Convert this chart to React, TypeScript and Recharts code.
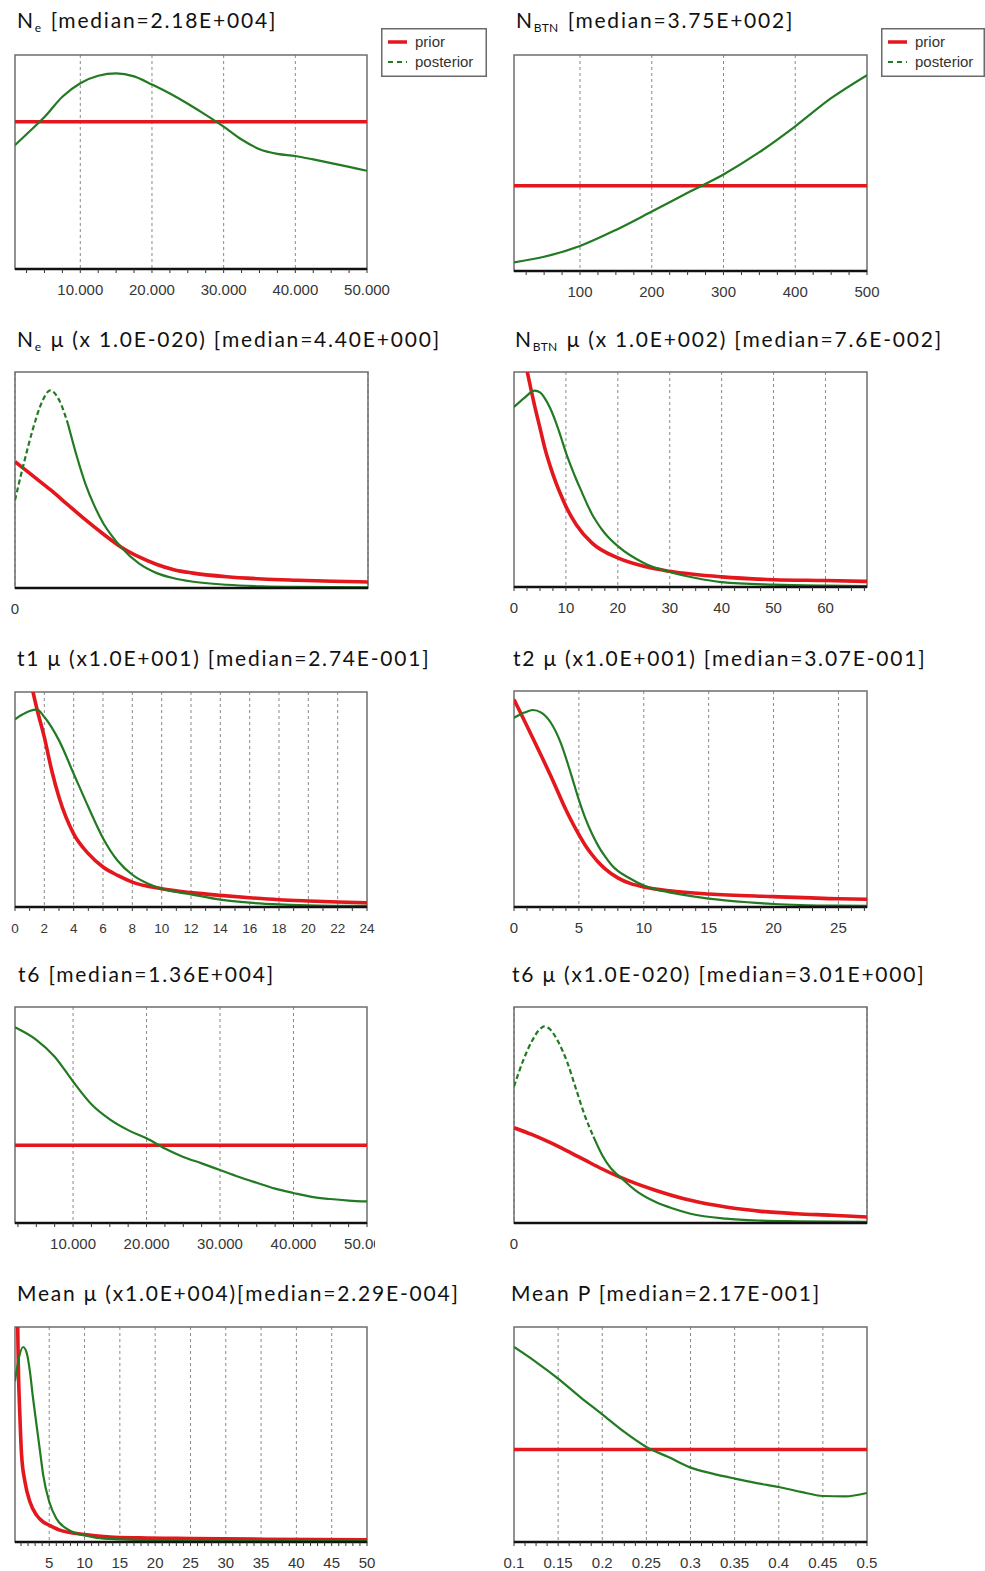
import React from "react";
import { LineChart, Line, XAxis, YAxis, CartesianGrid, ReferenceArea } from "recharts";

const RED = "#e3171c";
const GREEN = "#227a22";

// Ne
const neX = [890, 2500, 5000, 7500, 10000, 12500, 15000, 17500, 20000, 22500, 25000, 27500, 30000, 32500, 35000, 37500, 40000, 42500, 45000, 47500, 50000];
const nePost = [0.579, 0.63, 0.71, 0.805, 0.868, 0.903, 0.914, 0.9, 0.862, 0.82, 0.772, 0.72, 0.665, 0.605, 0.56, 0.538, 0.528, 0.512, 0.495, 0.477, 0.459];
const nePriorX = [890, 50000];
const nePrior = [0.688, 0.688];
const neTicks = [10000, 20000, 30000, 40000, 50000];
const neLabels = ["10.000", "20.000", "30.000", "40.000", "50.000"];

// NBTN
const nbX = [8, 50, 100, 150, 200, 250, 300, 350, 400, 450, 500];
const nbPost = [0.04, 0.066, 0.116, 0.19, 0.275, 0.362, 0.447, 0.55, 0.67, 0.8, 0.907];
const nbPriorX = [8, 500];
const nbPrior = [0.395, 0.395];
const nbTicks = [100, 200, 300, 400, 500];
const nbLabels = ["100", "200", "300", "400", "500"];

// Ne mu
const neMuPriorX = [0, 1, 2, 3, 4, 5, 6, 7, 8, 9, 10, 12, 14, 16, 18, 20];
const neMuPrior = [0.585, 0.52, 0.455, 0.385, 0.315, 0.25, 0.19, 0.145, 0.11, 0.085, 0.07, 0.052, 0.042, 0.036, 0.031, 0.028];
const neMuPostX = [0, 0.5, 1, 1.5, 2, 2.5, 3, 3.5, 4, 4.5, 5, 5.5, 6, 7, 8, 9, 10, 12, 14, 16, 20];
const neMuPost = [0.407, 0.577, 0.732, 0.856, 0.915, 0.87, 0.76, 0.61, 0.48, 0.38, 0.3, 0.24, 0.19, 0.115, 0.07, 0.045, 0.03, 0.015, 0.008, 0.005, 0.003];

// NBTN mu
const nbMuPriorX = [0, 1, 2, 3, 4, 5, 6, 7, 8, 9, 10, 12, 15, 20, 25, 30, 40, 50, 60, 68];
const nbMuPrior = [1.35, 1.22, 1.07, 0.95, 0.84, 0.74, 0.64, 0.56, 0.49, 0.43, 0.375, 0.29, 0.205, 0.135, 0.096, 0.073, 0.047, 0.034, 0.03, 0.026];
const nbMuPostX = [0, 2, 4, 5, 6, 7, 8, 9, 10, 11, 12, 13, 14, 15, 16, 17, 18, 20, 25, 30, 35, 40, 50, 60, 68];
const nbMuPost = [0.837, 0.88, 0.913, 0.905, 0.875, 0.83, 0.77, 0.7, 0.625, 0.56, 0.5, 0.445, 0.39, 0.34, 0.3, 0.265, 0.236, 0.19, 0.112, 0.07, 0.042, 0.023, 0.011, 0.006, 0.004];
const nbMuTicks = [0, 10, 20, 30, 40, 50, 60];

// t1 mu
const t1PriorX = [0, 1, 1.5, 2, 2.5, 3, 4, 5, 6, 7, 8, 10, 12, 14, 16, 18, 20, 22, 24];
const t1Prior = [1.4, 1.07, 0.92, 0.79, 0.636, 0.51, 0.34, 0.248, 0.186, 0.147, 0.116, 0.085, 0.067, 0.054, 0.043, 0.034, 0.028, 0.023, 0.02];
const t1PostX = [0, 0.5, 1, 1.5, 2, 3, 4, 5, 6, 7, 8, 9, 10, 11, 12, 14, 16, 18, 20, 24];
const t1Post = [0.873, 0.895, 0.912, 0.918, 0.884, 0.775, 0.62, 0.465, 0.32, 0.215, 0.15, 0.11, 0.085, 0.07, 0.059, 0.034, 0.02, 0.012, 0.008, 0.005];
const t1Ticks = [0, 2, 4, 6, 8, 10, 12, 14, 16, 18, 20, 22, 24];

// t2 mu
const t2PriorX = [0, 1, 2, 3, 4, 4.5, 5, 5.5, 6, 6.5, 7, 8, 9, 10, 12, 15, 20, 25, 27.2];
const t2Prior = [0.961, 0.838, 0.713, 0.585, 0.45, 0.39, 0.335, 0.285, 0.243, 0.207, 0.178, 0.135, 0.108, 0.093, 0.075, 0.06, 0.048, 0.038, 0.036];
const t2PostX = [0, 0.8, 1.45, 2.1, 2.84, 3.6, 4.37, 5, 5.5, 6, 6.5, 7, 7.5, 8, 8.7, 10, 11.2, 12.5, 15, 18, 20, 25, 27.2];
const t2Post = [0.876, 0.9, 0.912, 0.9, 0.853, 0.76, 0.62, 0.496, 0.41, 0.34, 0.282, 0.235, 0.196, 0.167, 0.14, 0.1, 0.078, 0.062, 0.039, 0.022, 0.014, 0.006, 0.005];
const t2Ticks = [0, 5, 10, 15, 20, 25];

// t6
const t6X = [2100, 5000, 7500, 10000, 12500, 15000, 17500, 20000, 22500, 25000, 27500, 30000, 32500, 35000, 37500, 40000, 42500, 45000, 47500, 50000];
const t6Post = [0.906, 0.848, 0.77, 0.655, 0.55, 0.48, 0.43, 0.392, 0.345, 0.306, 0.276, 0.245, 0.214, 0.186, 0.159, 0.139, 0.121, 0.111, 0.104, 0.1];
const t6PriorX = [2100, 50000];
const t6Prior = [0.36, 0.36];

// t6 mu
const t6MuPriorX = [0, 1, 2, 3, 4, 5, 6, 7, 8, 10, 12, 14, 16, 18, 20];
const t6MuPrior = [0.441, 0.41, 0.374, 0.334, 0.292, 0.25, 0.212, 0.18, 0.152, 0.105, 0.074, 0.054, 0.043, 0.036, 0.028];
const t6MuPostX = [0, 0.5, 1, 1.5, 1.7, 2, 2.5, 3, 3.5, 4, 4.5, 5, 5.5, 6, 7, 8, 9, 10, 12, 14, 16, 20];
const t6MuPost = [0.632, 0.748, 0.84, 0.9, 0.91, 0.9, 0.84, 0.748, 0.624, 0.5, 0.4, 0.314, 0.252, 0.214, 0.144, 0.098, 0.067, 0.043, 0.02, 0.011, 0.008, 0.005];

// Mean mu
const mmPriorX = [0.15, 0.45, 0.6, 0.85, 1.08, 1.56, 2.26, 3.2, 4.15, 5, 6.5, 10, 13.6, 17.8, 25, 35, 50];
const mmPrior = [2.2, 1.2, 0.85, 0.58, 0.405, 0.28, 0.187, 0.125, 0.093, 0.078, 0.055, 0.035, 0.023, 0.019, 0.016, 0.013, 0.01];
const mmPostX = [0.15, 0.6, 1.3, 1.8, 2.26, 2.7, 3.2, 3.7, 4.15, 5, 6, 7.45, 8.9, 10, 11.7, 15, 20, 50];
const mmPost = [0.748, 0.84, 0.907, 0.88, 0.794, 0.67, 0.545, 0.42, 0.31, 0.187, 0.109, 0.062, 0.039, 0.031, 0.019, 0.012, 0.008, 0.005];
const mmTicks = [5, 10, 15, 20, 25, 30, 35, 40, 45, 50];

// Mean P
const mpX = [0.1, 0.125, 0.15, 0.175, 0.2, 0.225, 0.25, 0.275, 0.3, 0.325, 0.35, 0.375, 0.4, 0.425, 0.45, 0.475, 0.5];
const mpPost = [0.907, 0.837, 0.76, 0.674, 0.594, 0.512, 0.442, 0.395, 0.346, 0.318, 0.295, 0.274, 0.256, 0.233, 0.214, 0.212, 0.228];
const mpPriorX = [0.1, 0.5];
const mpPrior = [0.43, 0.43];
const mpTicks = [0.1, 0.15, 0.2, 0.25, 0.3, 0.35, 0.4, 0.45, 0.5];

type Pt = { x: number; y: number };
const pts = (xs: number[], ys: number[]): Pt[] => xs.map((x, i) => ({ x, y: ys[i] }));

interface PanelProps {
  title: React.ReactNode;
  titleX: number;
  titleY: number;
  left: number;
  top: number;
  w: number;
  h: number;
  domain: [number, number];
  ticks: number[];
  labels: string[];
  grid: number[];
  minor?: number;
  prior: Pt[];
  post: Pt[];
  dashEnd?: number;
  padRight?: number;
  tickFont?: number;
}

const ML = 14;
const MT = 4;
const AXH = 36;

const Sub = ({ children }: { children: React.ReactNode }) => (
  <span style={{ fontSize: 12, letterSpacing: 0.3, position: "relative", top: 4, marginRight: 2 }}>{children}</span>
);

const Panel = (p: PanelProps) => {
  const padR = p.padRight ?? 32;
  const fs = p.tickFont ?? 15;
  const minorTicks: number[] = [];
  if (p.minor) {
    const start = Math.ceil(p.domain[0] / p.minor - 1e-6) * p.minor;
    for (let v = start; v <= p.domain[1] + 1e-9; v += p.minor) minorTicks.push(Math.round(v * 1e6) / 1e6);
  }
  const allTicks = Array.from(new Set([...p.ticks, ...minorTicks])).sort((a, b) => a - b);
  const dash = p.dashEnd !== undefined ? p.post.filter((d) => d.x <= p.dashEnd!) : [];
  const solid = p.dashEnd !== undefined ? p.post.filter((d) => d.x >= p.dashEnd!) : p.post;

  const renderTick = (props: any) => {
    const { x, y, payload } = props;
    const i = p.ticks.indexOf(payload.value);
    return (
      <g>
        {p.minor !== undefined && <line x1={x} x2={x} y1={y} y2={y + 4} stroke="#333" strokeWidth={1} />}
        {i >= 0 && (
          <text x={x} y={y + 26} textAnchor="middle" fontFamily="'Liberation Sans', Arial, sans-serif" fontSize={fs} fill="#363636">
            {p.labels[i]}
          </text>
        )}
      </g>
    );
  };

  return (
    <>
      <div
        style={{
          position: "absolute",
          left: p.titleX,
          top: p.titleY - 18.6,
          fontFamily: "Lato, 'Noto Sans', sans-serif",
          fontSize: 21,
          letterSpacing: 1.8,
          lineHeight: "21px",
          whiteSpace: "nowrap",
          color: "#111",
        }}
      >
        {p.title}
      </div>
      <div style={{ position: "absolute", left: p.left - ML, top: p.top - MT }}>
        <LineChart
          width={p.w + ML + padR}
          height={p.h + MT + AXH}
          margin={{ top: MT, right: padR, left: ML, bottom: 0 }}
        >
          <CartesianGrid horizontal={false} verticalValues={p.grid} stroke="#8a8a8a" strokeDasharray="3 3" />
          <XAxis
            dataKey="x"
            type="number"
            domain={p.domain}
            allowDataOverflow
            ticks={allTicks}
            interval={0}
            height={AXH}
            tickSize={0}
            tickMargin={0}
            tickLine={false}
            axisLine={{ stroke: "#111", strokeWidth: 2.5 }}
            tick={renderTick}
          />
          <YAxis hide type="number" domain={[0, 1]} allowDataOverflow />
          <ReferenceArea x1={p.domain[0]} x2={p.domain[1]} y1={0} y2={1} fill="none" stroke="#6e6e6e" strokeWidth={1.5} />
          <Line data={p.prior} dataKey="y" type="monotone" stroke={RED} strokeWidth={3.6} dot={false} isAnimationActive={false} />
          {dash.length > 0 && (
            <Line data={dash} dataKey="y" type="monotone" stroke={GREEN} strokeWidth={2.2} strokeDasharray="5 3" dot={false} isAnimationActive={false} />
          )}
          <Line data={solid} dataKey="y" type="monotone" stroke={GREEN} strokeWidth={2.2} dot={false} isAnimationActive={false} />
        </LineChart>
      </div>
    </>
  );
};

const LegendBox = ({ left, width }: { left: number; width: number }) => (
  <svg style={{ position: "absolute", left, top: 28 }} width={width} height={49}>
    <rect x={0.75} y={0.75} width={width - 1.5} height={47.5} fill="#fff" stroke="#6a6a6a" strokeWidth={1.5} />
    <line x1={7} x2={26} y1={14} y2={14} stroke={RED} strokeWidth={3.5} />
    <text x={34} y={19} fontFamily="'Liberation Sans', Arial, sans-serif" fontSize={15} fill="#333">prior</text>
    <line x1={7} x2={26} y1={34} y2={34} stroke={GREEN} strokeWidth={2} strokeDasharray="5 4" />
    <text x={34} y={39} fontFamily="'Liberation Sans', Arial, sans-serif" fontSize={15} fill="#333">posterior</text>
  </svg>
);

const LX = 15;
const RX = 514;
const PW = 352;
const PH = 215;

export default function App() {
  return (
    <div style={{ position: "absolute", left: 0, top: 0, width: 985, height: 1571, background: "#fff", overflow: "hidden" }}>
      <Panel
        title={<>N<Sub>e</Sub> [median=2.18E+004]</>}
        titleX={17} titleY={28}
        left={LX} top={55} w={PW} h={214}
        domain={[890, 50000]} ticks={neTicks} labels={neLabels}
        grid={[10000, 20000, 30000, 40000]} minor={2500}
        prior={pts(nePriorX, nePrior)} post={pts(neX, nePost)}
      />
      <LegendBox left={381} width={106} />
      <Panel
        title={<>N<Sub>BTN</Sub> [median=3.75E+002]</>}
        titleX={516} titleY={28}
        left={RX} top={55} w={353} h={216}
        domain={[8, 500]} ticks={nbTicks} labels={nbLabels}
        grid={[100, 200, 300, 400]} minor={25}
        prior={pts(nbPriorX, nbPrior)} post={pts(nbX, nbPost)}
      />
      <LegendBox left={881} width={104} />
      <Panel
        title={<>N<Sub>e</Sub> μ (x 1.0E-020) [median=4.40E+000]</>}
        titleX={17} titleY={347}
        left={LX} top={372} w={353} h={216}
        domain={[0, 20]} ticks={[0]} labels={["0"]}
        grid={[]}
        prior={pts(neMuPriorX, neMuPrior)} post={pts(neMuPostX, neMuPost)} dashEnd={3}
      />
      <Panel
        title={<>N<Sub>BTN</Sub> μ (x 1.0E+002) [median=7.6E-002]</>}
        titleX={515} titleY={347}
        left={RX} top={372} w={353} h={215}
        domain={[0, 68]} ticks={nbMuTicks} labels={nbMuTicks.map(String)}
        grid={[10, 20, 30, 40, 50, 60]} minor={2.5}
        prior={pts(nbMuPriorX, nbMuPrior)} post={pts(nbMuPostX, nbMuPost)}
      />
      <Panel
        title="t1 μ (x1.0E+001) [median=2.74E-001]"
        titleX={17} titleY={666}
        left={LX} top={692} w={PW} h={PH}
        domain={[0, 24]} ticks={t1Ticks} labels={t1Ticks.map(String)}
        grid={[2, 4, 6, 8, 10, 12, 14, 16, 18, 20, 22]} minor={1} tickFont={13.5}
        prior={pts(t1PriorX, t1Prior)} post={pts(t1PostX, t1Post)}
      />
      <Panel
        title="t2 μ (x1.0E+001) [median=3.07E-001]"
        titleX={513} titleY={666}
        left={RX} top={691} w={353} h={216}
        domain={[0, 27.2]} ticks={t2Ticks} labels={t2Ticks.map(String)}
        grid={[5, 10, 15, 20, 25]} minor={1}
        prior={pts(t2PriorX, t2Prior)} post={pts(t2PostX, t2Post)}
      />
      <Panel
        title="t6 [median=1.36E+004]"
        titleX={18} titleY={982}
        left={LX} top={1007} w={PW} h={216}
        domain={[2100, 50000]} ticks={neTicks} labels={neLabels}
        grid={[10000, 20000, 30000, 40000]} minor={2500} padRight={8}
        prior={pts(t6PriorX, t6Prior)} post={pts(t6X, t6Post)}
      />
      <Panel
        title="t6 μ (x1.0E-020) [median=3.01E+000]"
        titleX={512} titleY={982}
        left={RX} top={1007} w={353} h={216}
        domain={[0, 20]} ticks={[0]} labels={["0"]}
        grid={[]}
        prior={pts(t6MuPriorX, t6MuPrior)} post={pts(t6MuPostX, t6MuPost)} dashEnd={4.5}
      />
      <Panel
        title="Mean μ (x1.0E+004)[median=2.29E-004]"
        titleX={17} titleY={1301}
        left={LX} top={1327} w={PW} h={PH}
        domain={[0.15, 50]} ticks={mmTicks} labels={mmTicks.map(String)}
        grid={[5, 10, 15, 20, 25, 30, 35, 40, 45]} minor={1}
        prior={pts(mmPriorX, mmPrior)} post={pts(mmPostX, mmPost)}
      />
      <Panel
        title="Mean P [median=2.17E-001]"
        titleX={511} titleY={1301}
        left={RX} top={1327} w={353} h={PH}
        domain={[0.1, 0.5]} ticks={mpTicks} labels={mpTicks.map(String)}
        grid={[0.15, 0.2, 0.25, 0.3, 0.35, 0.4, 0.45]} minor={0.0125}
        prior={pts(mpPriorX, mpPrior)} post={pts(mpX, mpPost)}
      />
    </div>
  );
}
